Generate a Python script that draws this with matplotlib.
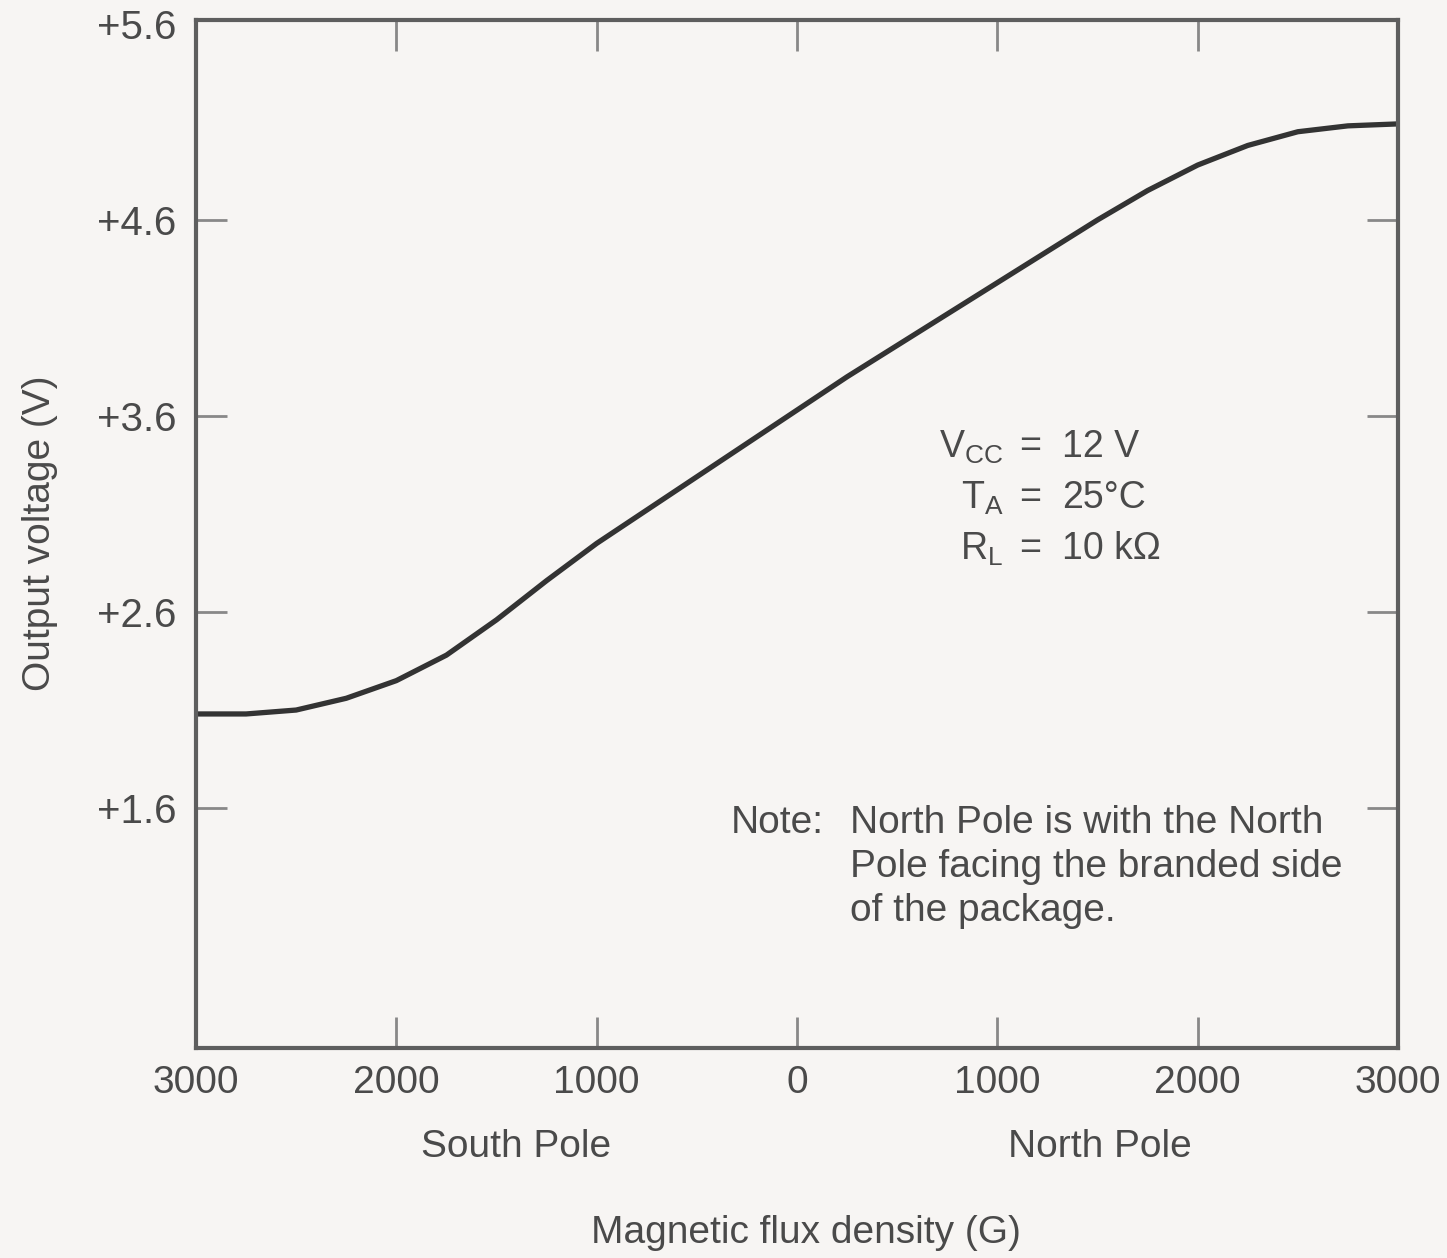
import matplotlib
matplotlib.use("Agg")
import matplotlib.pyplot as plt

plt.rcParams['font.family'] = ['Liberation Sans', 'DejaVu Sans']
plt.rcParams['mathtext.fontset'] = 'custom'
plt.rcParams['mathtext.rm'] = 'Liberation Sans'

# Data (flux density in G, negative = South Pole)
flux = [-3000, -2750, -2500, -2250, -2000, -1750, -1500, -1250, -1000, -750,
        -500, -250, 0, 250, 500, 750, 1000, 1250, 1500, 1750, 2000, 2250,
        2500, 2750, 3000]
vout = [2.08, 2.08, 2.10, 2.16, 2.25, 2.38, 2.56, 2.76, 2.95, 3.12,
        3.29, 3.46, 3.63, 3.80, 3.96, 4.12, 4.28, 4.44, 4.60, 4.75, 4.88, 4.98,
        5.05, 5.08, 5.09]

xtick_vals = [-3000, -2000, -1000, 0, 1000, 2000, 3000]
xtick_labels = ['3000', '2000', '1000', '0', '1000', '2000', '3000']
ytick_vals = [1.6, 2.6, 3.6, 4.6, 5.6]
ytick_labels = ['+1.6', '+2.6', '+3.6', '+4.6', '+5.6']

paper = '#f7f5f3'
ink = '#4a4a4a'
spine_c = '#5e5e5e'

fig = plt.figure(figsize=(14.47, 12.58), dpi=100, facecolor=paper)
ax = fig.add_axes([196/1447, 1 - 1048/1258, (1398-196)/1447, (1048-20)/1258])
ax.set_facecolor(paper)

ax.plot(flux, vout, color='#333333', lw=3.8, solid_joinstyle='round',
        solid_capstyle='butt')

ax.set_xlim(-3000, 3000)
ax.set_ylim(0.376, 5.62)

for s in ax.spines.values():
    s.set_color(spine_c)
    s.set_linewidth(3.0)

ax.set_xticks(xtick_vals)
ax.set_xticklabels(xtick_labels)
ax.set_yticks(ytick_vals)
ax.set_yticklabels(ytick_labels)
ax.tick_params(axis='both', direction='in', length=22, width=2.0, color='#888888',
               labelcolor=ink, top=True, right=True)
ax.tick_params(axis='x', pad=12, labelsize=28)
ax.tick_params(axis='y', pad=14, labelsize=29)

# no tick marks at the corners
for t in (ax.xaxis.get_major_ticks()[0], ax.xaxis.get_major_ticks()[-1],
          ax.yaxis.get_major_ticks()[-1]):
    t.tick1line.set_visible(False)
    t.tick2line.set_visible(False)

# condition annotations (aligned on "=")
conds = [(r'$\mathregular{V_{CC}}$', '12 V', 3.44),
         (r'$\mathregular{T_{A}}$', '25°C', 3.18),
         (r'$\mathregular{R_{L}}$', '10 kΩ', 2.92)]
for sym, val, yv in conds:
    ax.text(1030, yv, sym, ha='right', va='center', fontsize=27, color=ink)
    ax.text(1163, yv, '=', ha='center', va='center', fontsize=27, color=ink)
    ax.text(1322, yv, val, ha='left', va='center', fontsize=27, color=ink)

note_y = 1.615
ax.text(-330, note_y, 'Note:', ha='left', va='top', fontsize=28, color=ink)
ax.text(265, note_y, 'North Pole is with the North\nPole facing the branded side\nof the package.',
        ha='left', va='top', fontsize=28, color=ink, linespacing=1.28)

fig.text(516/1447, 1 - 1147/1258, 'South Pole', ha='center', va='center', fontsize=28, color=ink)
fig.text(1100/1447, 1 - 1147/1258, 'North Pole', ha='center', va='center', fontsize=28, color=ink)
fig.text(806/1447, 1 - 1233/1258, 'Magnetic flux density (G)', ha='center', va='center',
         fontsize=28, color=ink)
fig.text(40/1447, 1 - 533/1258, 'Output voltage (V)', ha='center', va='center',
         rotation=90, fontsize=28, color=ink)

fig.savefig('out.png', dpi=100, facecolor=paper)
